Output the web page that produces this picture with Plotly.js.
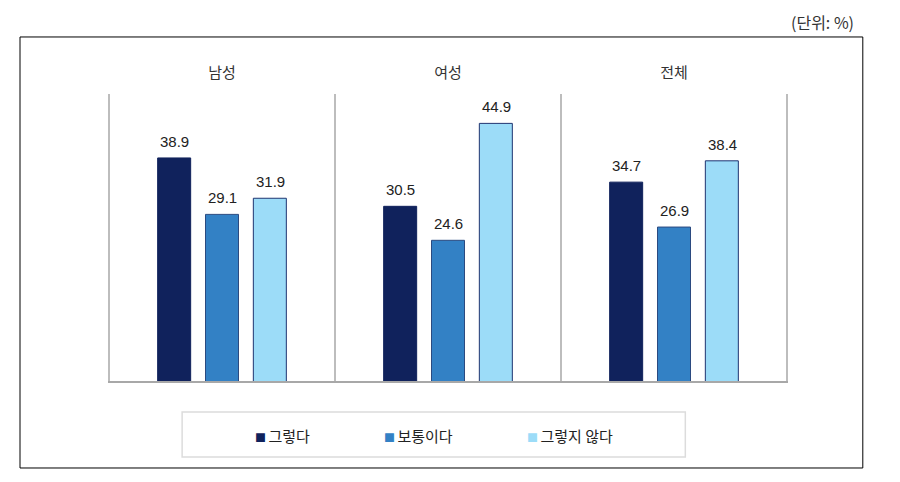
<!DOCTYPE html>
<html>
<head>
<meta charset="utf-8">
<script src="https://cdn.plot.ly/plotly-3.0.1.min.js"></script>
<style>
  body { margin: 0; background: #fff; }
  #graph { width: 900px; height: 482px; }
</style>
</head>
<body>
<div id="graph"></div>
<script>
// categories and answers
const groups = ['남성', '여성', '전체'];
const answers = ['그렇다', '보통이다', '그렇지 않다'];
const yesValues = [38.9, 30.5, 34.7];     // 그렇다
const midValues = [29.1, 24.6, 26.9];     // 보통이다
const noValues = [31.9, 44.9, 38.4];      // 그렇지 않다

const numFont = 'Liberation Sans, Arial, sans-serif';
const krFont = 'Noto Sans CJK KR, sans-serif';

const fills = ['#10225c', '#3381c5', '#9cdcf8'];
const edges = ['#10225c', '#2b4a80', '#1f3470'];
const series = [yesValues, midValues, noValues];

const traces = series.map((values, i) => ({
    x: groups,
    y: values,
    type: 'bar',
    name: answers[i],
    marker: { color: fills[i], line: { color: edges[i], width: 1 } },
    hoverinfo: 'x+y'
}));

// value labels above each bar, shifted to the bar's slot in the group
const slotShift = [-48, 0, 48];
const annotations = [];
series.forEach((values, i) => {
    values.forEach((v, j) => {
        annotations.push({
            x: groups[j], y: v, xref: 'x', yref: 'y',
            text: v.toFixed(1),
            xshift: slotShift[i], yshift: 6,
            xanchor: 'center', yanchor: 'bottom',
            showarrow: false,
            font: { family: numFont, size: 15, color: '#222' }
        });
    });
});

// legend drawn as text in a box, like the original
const legendX = [0.2132, 0.4029, 0.6132];
answers.forEach((name, i) => {
    annotations.push({
        xref: 'paper', yref: 'paper',
        x: legendX[i], y: -0.187,
        xanchor: 'left', yanchor: 'middle',
        showarrow: false,
        text: '<span style="color:' + fills[i] + ';font-size:11px">■ </span>' + name,
        font: { family: krFont, size: 15, color: '#222' }
    });
});

annotations.push({
    text: '(단위: %)',
    xref: 'paper', yref: 'paper',
    x: 1.1, y: 1.25,
    xanchor: 'right', yanchor: 'middle',
    showarrow: false,
    font: { family: krFont, size: 16, color: '#333' }
});

// gray frame lines around and between the groups
const shapes = [-0.5, 0.5, 1.5, 2.5].map((xv) => ({
    type: 'line', xref: 'x', yref: 'paper',
    x0: xv, x1: xv, y0: 0, y1: 1,
    line: { color: '#bdbdbd', width: 2 }
}));

shapes.push({
    type: 'line', xref: 'paper', yref: 'paper',
    x0: 0, x1: 1, y0: 0, y1: 0,
    line: { color: '#a8a8a8', width: 2 }
});

// legend box
shapes.push({
    type: 'rect', xref: 'paper', yref: 'paper',
    x0: 0.109, x1: 0.849, y0: -0.26, y1: -0.104,
    line: { color: '#dcdcdc', width: 1.5 }
});

// outer black frame
shapes.push({
    type: 'rect', xref: 'paper', yref: 'paper',
    x0: -0.1294, x1: 1.110, y0: -0.2986, y1: 1.198,
    line: { color: '#000', width: 1 }
});

const layout = {
    width: 900,
    height: 482,
    margin: { l: 108, r: 112, t: 94, b: 100 },
    paper_bgcolor: '#fff',
    plot_bgcolor: '#fff',
    barmode: 'group',
    bargap: 0.365,
    bargroupgap: 0.31,
    font: { family: krFont, size: 14, color: '#333' },
    xaxis: {
        side: 'top',
        type: 'category',
        showline: false,
        showgrid: false,
        zeroline: false,
        ticks: '',
        ticklabelstandoff: 12,
        tickfont: { family: krFont, size: 15, color: '#333' },
        fixedrange: true
    },
    yaxis: {
        range: [0, 50],
        showgrid: false,
        zeroline: false,
        showline: false,
        showticklabels: false,
        ticks: '',
        fixedrange: true
    },
    showlegend: false,
    shapes: shapes,
    annotations: annotations
};

Plotly.newPlot('graph', traces, layout, { displayModeBar: false, staticPlot: true });
</script>
</body>
</html>
